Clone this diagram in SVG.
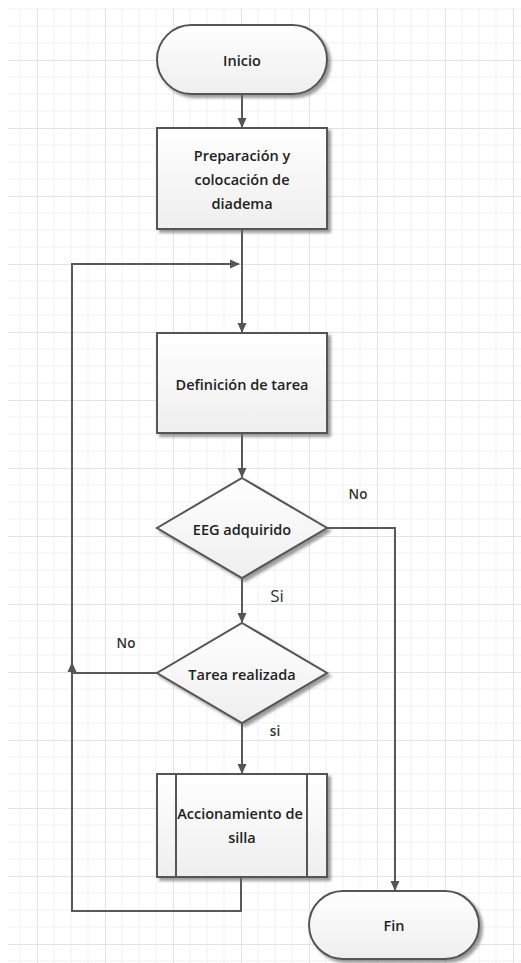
<svg xmlns="http://www.w3.org/2000/svg" width="521" height="963" viewBox="0 0 521 963">
<style>
.shape{fill:url(#g);stroke:#555;stroke-width:2;filter:url(#sh)}
.c{fill:none;stroke:#595959;stroke-width:2}
.t{font-family:"Open Sans","Noto Sans",sans-serif;font-size:14.5px;font-weight:600;fill:#222;text-anchor:middle;dominant-baseline:central}
.l{font-family:"Open Sans","Noto Sans",sans-serif;font-size:13.5px;font-weight:600;fill:#333;text-anchor:middle;dominant-baseline:central}
</style>
<defs>
<linearGradient id="g" x1="0" y1="0" x2="0" y2="1"><stop offset="0" stop-color="#ffffff"/><stop offset="1" stop-color="#eeeeee"/></linearGradient>
<filter id="sh" x="-10%" y="-10%" width="130%" height="130%"><feDropShadow dx="3" dy="3" stdDeviation="1.5" flood-color="#666" flood-opacity="0.65"/></filter>
<marker id="a" markerWidth="10" markerHeight="10" refX="9" refY="5" orient="auto" markerUnits="userSpaceOnUse"><path d="M0,0.5 L10,5 L0,9.5 Z" fill="#555"/></marker>
<pattern id="grid" patternUnits="userSpaceOnUse" x="37" y="60" width="68" height="68">
<path d="M17,0V68M34,0V68M51,0V68M0,17H68M0,34H68M0,51H68" stroke="#f1f1f1" stroke-width="1" fill="none"/>
<path d="M0.5,0V68M0,0.5H68" stroke="#e3e3e3" stroke-width="1" fill="none"/>
</pattern>
</defs>
<rect width="521" height="963" fill="#fff"/>
<rect x="8" y="8" width="513" height="955" fill="url(#grid)"/>
<g id="connectors">
<path class="c" d="M242,94V127" marker-end="url(#a)"/>
<path class="c" d="M242,229V332" marker-end="url(#a)"/>
<path class="c" d="M242,433V477" marker-end="url(#a)"/>
<path class="c" d="M242,578V622" marker-end="url(#a)"/>
<path class="c" d="M242,723V773" marker-end="url(#a)"/>
<path class="c" d="M327,528H395V890" marker-end="url(#a)"/>
<path class="c" d="M241,877V911H72V264H239" marker-end="url(#a)"/>
<path class="c" d="M157,673H72"/>
<path d="M72,662 L76.5,672 L67.5,672 Z" fill="#555"/>
</g>
<g id="inicio"><rect class="shape" x="157" y="25" width="170" height="69" rx="34.5"/><text class="t" x="242" y="60">Inicio</text></g>
<g id="preparacion"><rect class="shape" x="157" y="128" width="170" height="101"/><text class="t" x="242" y="155">Preparación y</text><text class="t" x="242" y="179">colocación de</text><text class="t" x="242" y="203">diadema</text></g>
<g id="definicion"><rect class="shape" x="157" y="333" width="170" height="100"/><text class="t" x="242" y="384">Definición de tarea</text></g>
<g id="eeg"><polygon class="shape" points="242,478 327,528 242,578 157,528"/><text class="t" x="242" y="529">EEG adquirido</text></g>
<g id="tarea"><polygon class="shape" points="242,623 327,673 242,723 157,673"/><text class="t" x="242" y="674">Tarea realizada</text></g>
<g id="accionamiento"><rect class="shape" x="157" y="774" width="170" height="103"/><path d="M176,774V877M307,774V877" stroke="#555" stroke-width="2"/><text class="t" x="240" y="813">Accionamiento de</text><text class="t" x="242" y="837">silla</text></g>
<g id="fin"><rect class="shape" x="309" y="891" width="170" height="68" rx="34"/><text class="t" x="394" y="925">Fin</text></g>
<g id="labels">
<text class="l" x="358" y="494">No</text>
<text class="l" x="277" y="595" style="font-size:17px;font-weight:400">Si</text>
<text class="l" x="126" y="643">No</text>
<text class="l" x="275" y="731">si</text>
</g>
</svg>
